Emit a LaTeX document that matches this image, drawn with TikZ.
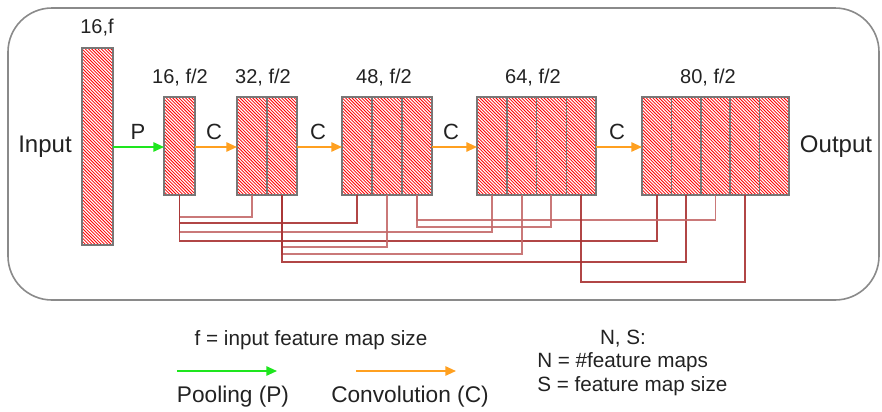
\documentclass[tikz,border=0pt]{standalone}
\usepackage{fontspec}
\setmainfont{Liberation Sans}
\usetikzlibrary{arrows.meta}
\definecolor{frame}{HTML}{8A8A8A}
\definecolor{edge}{HTML}{777777}
\definecolor{pgreen}{HTML}{1EE61E}
\definecolor{corange}{HTML}{FFA020}
\definecolor{linkdark}{HTML}{A83232}
\definecolor{linklight}{HTML}{C46A6A}
\definecolor{ink}{HTML}{222222}
\tikzset{
  fmap/.style={fill=red, inner sep=0pt, outer sep=0pt, minimum height=73.5pt},
  fmapedge/.style={draw=edge, line width=1.1pt},
  hatch/.style={fill=white},
  lbl/.style={text=ink, font=\fontsize{15}{18}\selectfont, inner sep=0pt},
  oplbl/.style={text=ink, font=\fontsize{16.5}{19}\selectfont, inner sep=0pt},
  side/.style={text=ink, font=\fontsize{18}{21}\selectfont, inner sep=0pt},
  legend/.style={text=ink, font=\fontsize{15.5}{18}\selectfont, inner sep=0pt},
  legendbig/.style={text=ink, font=\fontsize{17}{20}\selectfont, inner sep=0pt},
  poolarrow/.style={draw=pgreen, line width=1.3pt, -{Triangle[length=8pt,width=7pt]}},
  convarrow/.style={draw=corange, line width=1.3pt, -{Triangle[length=8pt,width=7pt]}},
  linkd/.style={draw=linkdark, line width=1.4pt, opacity=0.9},
  linkl/.style={draw=linklight, line width=1.4pt, opacity=0.9},
}
\begin{document}
\begin{tikzpicture}[x=0.75pt, y=-0.75pt]
\useasboundingbox (0,0) rectangle (882,411);
% enclosing frame
\draw[frame, line width=1.2pt, rounded corners=33pt] (8,8) rectangle (879,300);

% input map
\node[fmap, minimum width=23.25pt, minimum height=147.75pt] (inp) at (97.5,146.5) {};
\node[lbl] (inpl) at (97,28) {16,f};
\node[side] (tin) at (45,147) {Input};
\node[side] (tout) at (836,147) {Output};

% dense block columns
\node[fmap, minimum width=23.25pt] (b1) at (179.5,146) {};
\node[fmap, minimum width=22.5pt] (b2c1) at (252,146) {};
\node[fmap, minimum width=22.5pt] (b2c2) at (282,146) {};
\node[fmap, minimum width=22.5pt] (b3c1) at (357,146) {};
\node[fmap, minimum width=22.5pt] (b3c2) at (387,146) {};
\node[fmap, minimum width=22.5pt] (b3c3) at (417,146) {};
\node[fmap, minimum width=22.3pt] (b4c1) at (491.9,146) {};
\node[fmap, minimum width=22.3pt] (b4c2) at (521.6,146) {};
\node[fmap, minimum width=22.3pt] (b4c3) at (551.4,146) {};
\node[fmap, minimum width=22.3pt] (b4c4) at (581.1,146) {};
\node[fmap, minimum width=22.05pt] (b5c1) at (656.7,146) {};
\node[fmap, minimum width=22.05pt] (b5c2) at (686.1,146) {};
\node[fmap, minimum width=22.05pt] (b5c3) at (715.5,146) {};
\node[fmap, minimum width=22.05pt] (b5c4) at (744.9,146) {};
\node[fmap, minimum width=22.05pt] (b5c5) at (774.3,146) {};

% white diagonal hatching inside every feature map
\begin{scope}
  \clip (inp.south west) rectangle (inp.north east)
        (b1.south west) rectangle (b1.north east)
        (b2c1.south west) rectangle (b2c2.north east)
        (b3c1.south west) rectangle (b3c3.north east)
        (b4c1.south west) rectangle (b4c4.north east)
        (b5c1.south west) rectangle (b5c5.north east);
  \foreach \k in {0,...,300} {
    \pgfmathsetmacro{\c}{-150+3.2*\k}
    \fill[hatch] (\c,40) -- (\c+1.6,40) -- (\c+221.6,260) -- (\c+220,260) -- cycle;
  }
\end{scope}

% outlines go on top so shared column borders stay visible
\foreach \n in {inp,b1,b2c1,b2c2,b3c1,b3c2,b3c3,b4c1,b4c2,b4c3,b4c4,b5c1,b5c2,b5c3,b5c4,b5c5}
  \draw[fmapedge] (\n.south west) rectangle (\n.north east);

% block labels
\node[lbl] (l1) at (180,78) {16, f/2};
\node[lbl] (l2) at (263,78) {32, f/2};
\node[lbl] (l3) at (384,78) {48, f/2};
\node[lbl] (l4) at (533,78) {64, f/2};
\node[lbl] (l5) at (708,78) {80, f/2};

% pooling and convolution steps
\draw[poolarrow] (inp.east |- 0,147) -- (b1.west |- 0,147);
\draw[convarrow] (b1.east |- 0,147) -- (b2c1.west |- 0,147);
\draw[convarrow] (b2c2.east |- 0,147) -- (b3c1.west |- 0,147);
\draw[convarrow] (b3c3.east |- 0,147) -- (b4c1.west |- 0,147);
\draw[convarrow] (b4c4.east |- 0,147) -- (b5c1.west |- 0,147);
\node[oplbl] (op1) at (138,132) {P};
\node[oplbl] (op2) at (214,132) {C};
\node[oplbl] (op3) at (318,132) {C};
\node[oplbl] (op4) at (451,132) {C};
\node[oplbl] (op5) at (617,132) {C};

% skip connections (concatenation)
\draw[linkl] (b1.south) -- (b1.south |- 0,217) -| (b2c1.south);
\draw[linkd] (b1.south) -- (b1.south |- 0,223) -| (b3c1.south);
\draw[linkl] (b1.south) -- (b1.south |- 0,232) -| (b4c1.south);
\draw[linkd] (b1.south) -- (b1.south |- 0,241) -| (b5c1.south);
\draw[linkl] (b2c2.south) -- (b2c2.south |- 0,247) -| (b3c2.south);
\draw[linkl] (b2c2.south) -- (b2c2.south |- 0,254) -| (b4c2.south);
\draw[linkd] (b2c2.south) -- (b2c2.south |- 0,262) -| (b5c2.south);
\draw[linkl] (b3c3.south) -- (b3c3.south |- 0,227) -| (b4c3.south);
\draw[linkl] (b3c3.south) -- (b3c3.south |- 0,220) -| (b5c3.south);
\draw[linkd] (b4c4.south) -- (b4c4.south |- 0,282) -| (b5c4.south);

% legend
\node[legend] (lf) at (311,340) {f = input feature map size};
\coordinate (pa) at (177,371);
\coordinate (pb) at (277,371);
\coordinate (ca) at (356,371);
\coordinate (cb) at (456,371);
\draw[poolarrow] (pa) -- (pb);
\draw[convarrow] (ca) -- (cb);
\node[legendbig] (lp) at (233,397) {Pooling (P)};
\node[legendbig] (lc) at (410,397) {Convolution (C)};
\node[legend] (lns) at (623,339) {N, S:};
\node[legend, anchor=west] (ln) at (537,362) {N = \#feature maps};
\node[legend, anchor=west] (ls) at (537,386) {S = feature map size};
\end{tikzpicture}
\end{document}
